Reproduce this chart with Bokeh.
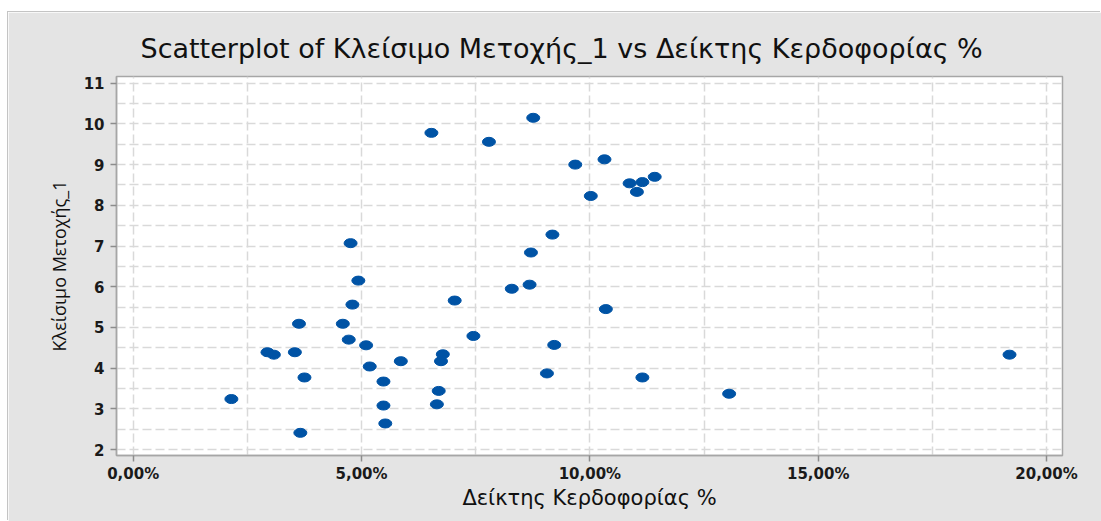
from bokeh.plotting import figure
from bokeh.models import Range1d, FixedTicker, Spacer
from bokeh.layouts import column, row
from bokeh.embed import file_html
from bokeh.resources import INLINE

# ---- data ----
profit_pct = [2.15, 2.94, 3.08, 3.54, 3.63, 3.75, 3.66, 4.76, 4.93, 4.80, 4.59,
              4.72, 5.10, 5.18, 5.48, 5.48, 5.52, 5.86, 6.53, 7.04, 6.78, 6.74,
              6.69, 6.65, 7.45, 7.79, 8.76, 8.29, 8.68, 8.71, 9.18, 9.06, 9.22,
              9.68, 10.32, 10.02, 10.35, 10.87, 11.15, 11.03, 11.15, 11.42,
              13.05, 19.19]
close_price = [3.24, 4.39, 4.33, 4.39, 5.09, 3.77, 2.41, 7.07, 6.15, 5.56, 5.09,
               4.70, 4.56, 4.04, 3.67, 3.08, 2.64, 4.17, 9.78, 5.66, 4.34, 4.17,
               3.44, 3.11, 4.79, 9.56, 10.15, 5.95, 6.05, 6.84, 7.28, 3.87, 4.57,
               9.00, 9.13, 8.23, 5.45, 8.54, 8.57, 8.33, 3.77, 8.70,
               3.37, 4.33]

x_tick_values = [0, 5, 10, 15, 20]
x_tick_labels = ["0,00%", "5,00%", "10,00%", "15,00%", "20,00%"]
x_grid_values = [0, 2.5, 5, 7.5, 10, 12.5, 15, 17.5, 20]
y_tick_values = [2, 3, 4, 5, 6, 7, 8, 9, 10, 11]
y_grid_values = [2 + 0.5 * i for i in range(19)]

title_text = "Scatterplot of Κλείσιμο Μετοχής_1 vs Δείκτης Κερδοφορίας %"
x_label = "Δείκτης Κερδοφορίας %"
y_label = "Κλείσιμο Μετοχής_1"

PANEL = "#e4e4e4"
GRID = "#d9d9d9"
FRAME = "#a6a6a6"
BLUE = "#0053a5"

# figure occupies page x 8..1101, y 12..521 ; frame x 116..1062, y 76..455
p = figure(width=1093, height=509, output_backend="svg", toolbar_location=None,
           x_range=Range1d(-0.366, 20.35), y_range=Range1d(1.853, 11.165),
           min_border_left=108, min_border_right=39, min_border_top=64,
           min_border_bottom=66)
p.styles = {"box-shadow": "-1px -1px 0 0 #c4c4c4"}

p.border_fill_color = PANEL
p.background_fill_color = "white"
p.outline_line_color = FRAME
p.outline_line_width = 1.5

p.title.text = title_text
p.title.text_font = "DejaVu Sans"
p.title.text_font_size = "27px"
p.title.text_font_style = "normal"
p.title.text_color = "#111111"
p.title.align = "left"
p.title.offset = 24
p.title.standoff = 26

# axes
xa = p.xaxis[0]
xa.ticker = FixedTicker(ticks=x_tick_values)
xa.major_label_overrides = {v: s for v, s in zip(x_tick_values, x_tick_labels)}
ya = p.yaxis[0]
ya.ticker = FixedTicker(ticks=y_tick_values)

for ax in (xa, ya):
    ax.axis_line_color = FRAME
    ax.axis_line_width = 1.5
    ax.major_tick_line_color = "#8c8c8c"
    ax.major_tick_line_width = 1.5
    ax.major_tick_out = 6
    ax.major_tick_in = 0
    ax.minor_tick_line_color = None
    ax.major_label_text_font = "DejaVu Sans"
    ax.major_label_text_font_size = "15px"
    ax.major_label_text_font_style = "bold"
    ax.major_label_text_color = "#1a1a1a"
    ax.axis_label_text_font_style = "normal"
    ax.axis_label_text_color = "#111111"

xa.major_label_standoff = 3
xa.axis_label = x_label
xa.axis_label_text_font = "DejaVu Sans"
xa.axis_label_text_font_size = "21px"
xa.axis_label_standoff = 0

ya.major_label_standoff = 6
ya.axis_label = y_label
ya.axis_label_text_font = "Open Sans"
ya.axis_label_text_font_size = "18px"
ya.axis_label_standoff = 10

# grids
p.xgrid.ticker = FixedTicker(ticks=x_grid_values)
p.ygrid.ticker = FixedTicker(ticks=y_grid_values)
for g in (p.xgrid, p.ygrid):
    g.grid_line_color = GRID
    g.grid_line_width = 1.5
    g.grid_line_dash = "9 4"

p.ellipse(x=profit_pct, y=close_price, width=13, height=9,
          width_units="screen", height_units="screen",
          fill_color=BLUE, line_color=BLUE)

layout = row(Spacer(width=8, height=521),
             column(Spacer(width=1093, height=12), p))
open("out.html", "w").write(file_html(layout, INLINE))
